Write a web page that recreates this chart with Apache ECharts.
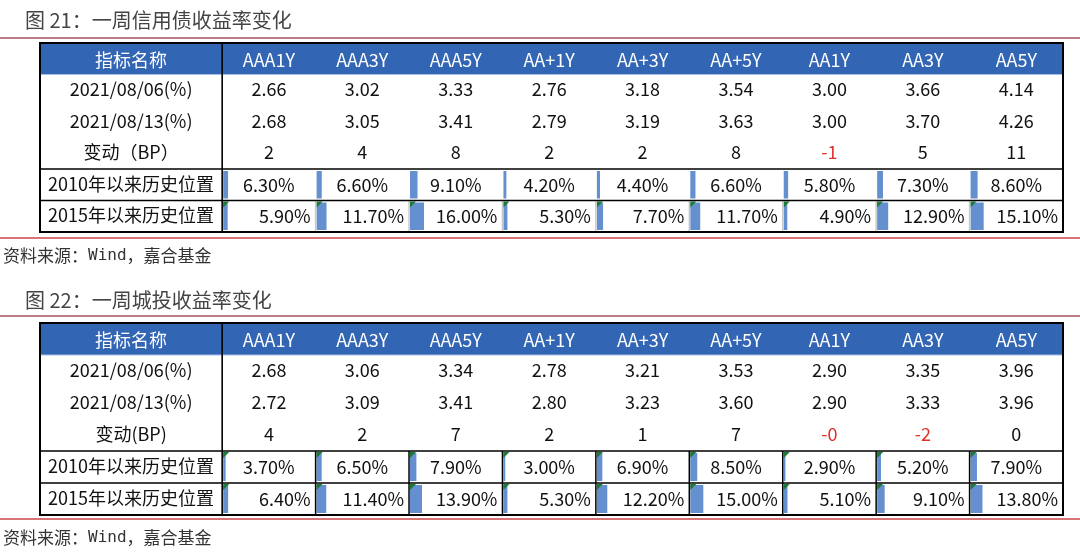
<!DOCTYPE html>
<html><head><meta charset="utf-8">
<script src="https://cdn.jsdelivr.net/npm/echarts@6/dist/echarts.min.js"></script>
<style>html,body{margin:0;padding:0;background:#fff}#c{width:1080px;height:555px}</style>
</head><body><div id="c"></div>
<script>
// ---- data ----
const categories = ['AAA1Y','AAA3Y','AAA5Y','AA+1Y','AA+3Y','AA+5Y','AA1Y','AA3Y','AA5Y'];
const headerLabel = '指标名称';
const creditTitle = '图 21：一周信用债收益率变化';
const urbanTitle = '图 22：一周城投收益率变化';
const creditRowLabels = ['2021/08/06(%)','2021/08/13(%)','变动（BP）','2010年以来历史位置','2015年以来历史位置'];
const urbanRowLabels = ['2021/08/06(%)','2021/08/13(%)','变动(BP)','2010年以来历史位置','2015年以来历史位置'];
const credit0806 = [2.66,3.02,3.33,2.76,3.18,3.54,3.00,3.66,4.14];
const credit0813 = [2.68,3.05,3.41,2.79,3.19,3.63,3.00,3.70,4.26];
const creditBP = ['2','4','8','2','2','8','-1','5','11'];
const credit2010 = [6.30,6.60,9.10,4.20,4.40,6.60,5.80,7.30,8.60];
const credit2015 = [5.90,11.70,16.00,5.30,7.70,11.70,4.90,12.90,15.10];
const urban0806 = [2.68,3.06,3.34,2.78,3.21,3.53,2.90,3.35,3.96];
const urban0813 = [2.72,3.09,3.41,2.80,3.23,3.60,2.90,3.33,3.96];
const urbanBP = ['4','2','7','2','1','7','-0','-2','0'];
const urban2010 = [3.70,6.50,7.90,3.00,6.90,8.50,2.90,5.20,7.90];
const urban2015 = [6.40,11.40,13.90,5.30,12.20,15.00,5.10,9.10,13.80];
const sourceText = '资料来源：{m|Wind}，嘉合基金';

// ---- layout / style ----
const FIRST = -1.95;
const FONT = '"Noto Sans CJK SC","Noto Sans",sans-serif';
const HEAD_BG = '#3265b4';
const BAR = '#6490d0';
const TRI = '#1d7a35';

function buildCells(rowLabels, r1, r2, bp, h10, h15) {
  const cells = [];
  cells.push({x0: FIRST, x1: 0, row: 0, text: headerLabel, kind: 'head'});
  categories.forEach((c, i) => cells.push({x0: i, x1: i + 1, row: 0, text: c, kind: 'head'}));
  rowLabels.forEach((t, r) => cells.push({x0: FIRST, x1: 0, row: r + 1, text: t, kind: 'label'}));
  r1.forEach((v, i) => cells.push({x0: i, x1: i + 1, row: 1, text: v.toFixed(2), kind: 'num'}));
  r2.forEach((v, i) => cells.push({x0: i, x1: i + 1, row: 2, text: v.toFixed(2), kind: 'num'}));
  bp.forEach((v, i) => cells.push({x0: i, x1: i + 1, row: 3, text: v, kind: 'num', neg: v.charAt(0) === '-'}));
  h10.forEach((v, i) => cells.push({x0: i, x1: i + 1, row: 4, text: v.toFixed(2) + '%', kind: 'pct', val: v, align: 'center'}));
  h15.forEach((v, i) => cells.push({x0: i, x1: i + 1, row: 5, text: v.toFixed(2) + '%', kind: 'pct', val: v, align: 'right'}));
  return cells;
}

function makeRender(cells, st) {
  return function (params, api) {
    const c = cells[params.dataIndex];
    const p0 = api.coord([c.x0, c.row]);
    const p1 = api.coord([c.x1, c.row + 1]);
    const x = p0[0], y = p0[1], w = p1[0] - x, h = p1[1] - y;
    const ch = [];
    if (c.kind === 'head') {
      ch.push({type: 'rect', shape: {x: Math.floor(x), y: y, width: Math.ceil(w) + 1, height: h}, style: {fill: HEAD_BG}});
      ch.push({type: 'text', style: {text: c.text, x: x + w / 2, y: y + h / 2 + 1, align: 'center', verticalAlign: 'middle', font: '18px ' + FONT, fill: '#fff'}});
    } else if (c.kind === 'label' || c.kind === 'num') {
      ch.push({type: 'text', style: {text: c.text, x: x + w / 2, y: y + h / 2 - 1, align: 'center', verticalAlign: 'middle', font: '18px ' + FONT, fill: c.neg ? '#e0302c' : '#111'}});
    } else {
      const bx1 = api.coord([c.x0 + c.val / 100, c.row])[0];
      ch.push({type: 'rect', shape: {x: x + 1, y: y + 2, width: Math.max(1, bx1 - x - 1), height: h - 4}, style: {fill: BAR}});
      const tri = c.row === 4 ? st.tri4 : st.tri5;
      if (tri) ch.push({type: 'polygon', shape: {points: [[x + 1, y + 1], [x + 7, y + 1], [x + 1, y + 7]]}, style: {fill: TRI}});
      const sep = c.row === 4 ? st.sep4 : st.sep5;
      if (sep && c.x0 > 0) ch.push({type: 'line', shape: {x1: x, y1: y, x2: x, y2: y + h}, style: {stroke: sep, lineWidth: 1.5}});
      const tx = c.align === 'right' ? x + w - 5 : x + w / 2;
      ch.push({type: 'text', style: {text: c.text, x: tx, y: y + h / 2, align: c.align, verticalAlign: 'middle', font: '18px ' + FONT, fill: '#111'}});
    }
    return {type: 'group', children: ch};
  };
}

function frameRender(params, api) {
  const tl = api.coord([FIRST, 0]);
  const br = api.coord([9, 6]);
  const colX = api.coord([0, 0])[0];
  const y1 = api.coord([0, 1])[1];
  const y4 = api.coord([0, 4])[1];
  const y5 = api.coord([0, 5])[1];
  const s = {stroke: '#000', lineWidth: 1.6};
  return {type: 'group', children: [
    {type: 'line', shape: {x1: tl[0], y1: y1, x2: br[0], y2: y1}, style: {stroke: '#a8c0e8', lineWidth: 1}},
    {type: 'line', shape: {x1: tl[0], y1: y4, x2: br[0], y2: y4}, style: s},
    {type: 'line', shape: {x1: tl[0], y1: y5, x2: br[0], y2: y5}, style: s},
    {type: 'line', shape: {x1: colX, y1: tl[1], x2: colX, y2: br[1]}, style: s},
    {type: 'rect', shape: {x: tl[0], y: tl[1], width: br[0] - tl[0], height: br[1] - tl[1]}, style: {fill: 'none', stroke: '#000', lineWidth: 2}}
  ]};
}

const cells1 = buildCells(creditRowLabels, credit0806, credit0813, creditBP, credit2010, credit2015);
const cells2 = buildCells(urbanRowLabels, urban0806, urban0813, urbanBP, urban2010, urban2015);
const st1 = {tri4: false, tri5: true, sep4: null, sep5: '#c9c9c9'};
const st2 = {tri4: true, tri5: true, sep4: '#000', sep5: '#000'};

const axX = (gi) => ({type: 'value', gridIndex: gi, min: FIRST, max: 9, show: false});
const axY = (gi) => ({type: 'value', gridIndex: gi, min: 0, max: 6, inverse: true, show: false});

const chart = echarts.init(document.getElementById('c'), null, {renderer: 'canvas'});
const titleStyle = {fontFamily: FONT, fontSize: 20, fontWeight: 'normal', color: '#444'};
const srcStyle = {font: '17px ' + FONT, fill: '#333', rich: {m: {font: '16px "DejaVu Sans Mono",monospace', fill: '#333'}}};
chart.setOption({
  animation: false,
  backgroundColor: '#fff',
  title: [
    {text: creditTitle, left: 20, top: 5, textStyle: titleStyle},
    {text: urbanTitle, left: 20, top: 285, textStyle: titleStyle}
  ],
  grid: [
    {left: 40, top: 43, width: 1023, height: 189},
    {left: 40, top: 323, width: 1023, height: 192}
  ],
  xAxis: [axX(0), axX(1)],
  yAxis: [axY(0), axY(1)],
  graphic: [
    {type: 'line', shape: {x1: 0, y1: 38, x2: 1080, y2: 38}, style: {stroke: '#a4535b', lineWidth: 1.5}},
    {type: 'line', shape: {x1: 0, y1: 238, x2: 1080, y2: 238}, style: {stroke: '#c8464a', lineWidth: 1.5}},
    {type: 'line', shape: {x1: 0, y1: 316, x2: 1080, y2: 316}, style: {stroke: '#a4535b', lineWidth: 1.5}},
    {type: 'line', shape: {x1: 0, y1: 519, x2: 1080, y2: 519}, style: {stroke: '#c8464a', lineWidth: 1.5}},
    {type: 'text', left: 3, top: 247, style: Object.assign({text: sourceText}, srcStyle)},
    {type: 'text', left: 3, top: 529, style: Object.assign({text: sourceText}, srcStyle)}
  ],
  series: [
    {type: 'custom', xAxisIndex: 0, yAxisIndex: 0, renderItem: makeRender(cells1, st1), data: cells1.map(c => [c.x0, c.row]), silent: true},
    {type: 'custom', xAxisIndex: 0, yAxisIndex: 0, renderItem: frameRender, data: [[0, 0]], silent: true, z: 5},
    {type: 'custom', xAxisIndex: 1, yAxisIndex: 1, renderItem: makeRender(cells2, st2), data: cells2.map(c => [c.x0, c.row]), silent: true},
    {type: 'custom', xAxisIndex: 1, yAxisIndex: 1, renderItem: frameRender, data: [[0, 0]], silent: true, z: 5}
  ]
});
</script></body></html>
